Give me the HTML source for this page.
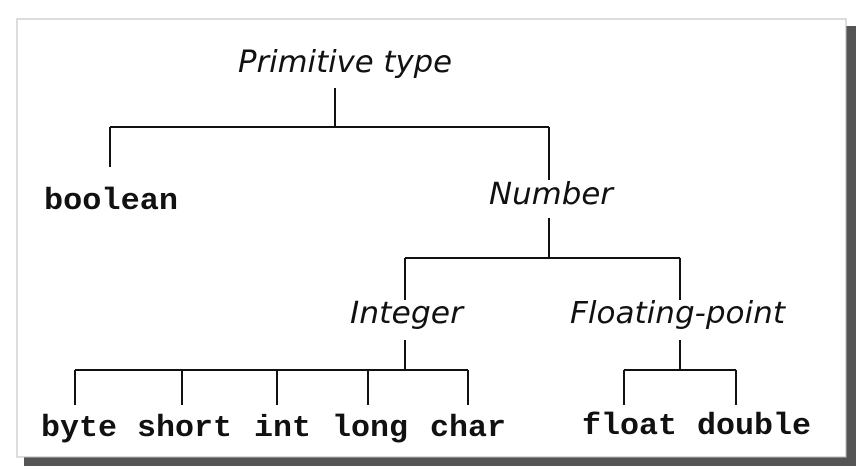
<!DOCTYPE html>
<html><head><meta charset="utf-8"><style>
html,body{margin:0;padding:0;background:#fff;width:867px;height:474px;overflow:hidden}
</style></head><body>
<svg width="867" height="474" xmlns="http://www.w3.org/2000/svg">
<rect x="24" y="26" width="832" height="440" fill="#555"/>
<rect x="17" y="19" width="829" height="438" fill="#fff" stroke="#bbb" stroke-width="1"/>
<g stroke="#111" stroke-width="2" fill="none">
<path d="M335 88V127M110 127H549M110 127V167M549 127V180"/>
<path d="M549 218V258M405 258H680M405 258V300M680 258V300"/>
<path d="M405 340V370M75 370H468M75 370V405M182 370V405M277 370V405M368 370V405M468 370V405"/>
<path d="M680 340V370M624 370H736M624 370V405M736 370V405"/>
</g>
<g font-family="'DejaVu Sans','Liberation Sans',sans-serif" font-style="italic" font-size="30" fill="#111" lengthAdjust="spacingAndGlyphs">
<text x="238" y="72" textLength="214" lengthAdjust="spacingAndGlyphs">Primitive type</text>
<text x="489" y="204" textLength="124" lengthAdjust="spacingAndGlyphs">Number</text>
<text x="350" y="323" textLength="113" lengthAdjust="spacingAndGlyphs">Integer</text>
<text x="570" y="323" textLength="215" lengthAdjust="spacingAndGlyphs">Floating-point</text>
</g>
<g font-family="'Liberation Mono',monospace" font-weight="bold" font-size="31" fill="#111">
<text x="44" y="209" textLength="134" lengthAdjust="spacingAndGlyphs">boolean</text>
<text x="41" y="436" textLength="76" lengthAdjust="spacingAndGlyphs">byte</text>
<text x="137" y="436" textLength="95" lengthAdjust="spacingAndGlyphs">short</text>
<text x="254" y="436" textLength="57" lengthAdjust="spacingAndGlyphs">int</text>
<text x="332" y="436" textLength="76" lengthAdjust="spacingAndGlyphs">long</text>
<text x="430" y="436" textLength="76" lengthAdjust="spacingAndGlyphs">char</text>
<text x="582" y="434" textLength="95" lengthAdjust="spacingAndGlyphs">float</text>
<text x="697" y="434" textLength="114" lengthAdjust="spacingAndGlyphs">double</text>
</g>
</svg>
</body></html>
